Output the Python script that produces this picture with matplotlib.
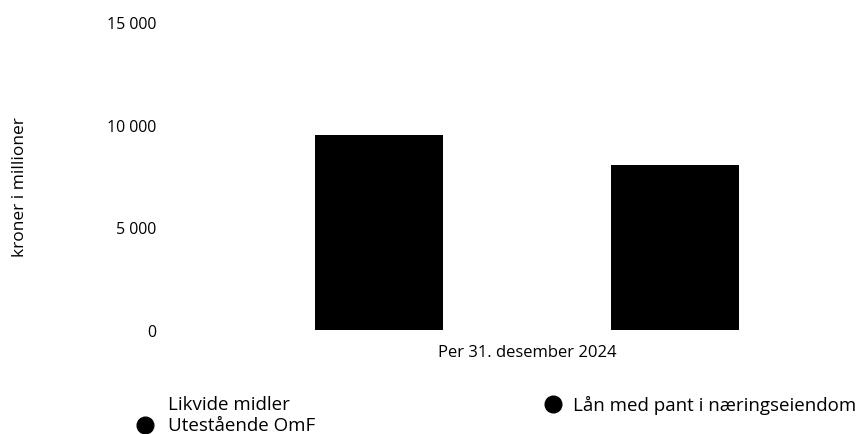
import numpy as np
import matplotlib.pyplot as plt
from matplotlib.lines import Line2D

plt.rcParams['font.family'] = ['Open Sans', 'DejaVu Sans']

# values in NOK millions, per 31 Dec 2024
category = 'Per 31. desember 2024'
omf = 5050        # Utestående OmF (bottom of first stack)
likvide = 4460    # Likvide midler (top of first stack)
laan = 8050       # Lån med pant i næringseiendom
yticks = [0, 5000, 10000, 15000]
ytick_labels = ['0', '5 000', '10 000', '15 000']

W, H = 859, 435
fig = plt.figure(figsize=(W / 100, H / 100), dpi=100)
# plot area in pixels: x 180..859, y 23..331
ax = fig.add_axes([180 / W, (H - 331) / H, 679 / W, (331 - 23) / H])

width = 0.865
ax.bar(-1, omf, width, color='black', linewidth=0)
ax.bar(-1, likvide, width, bottom=omf, color='black', linewidth=0)
ax.bar(1, laan, width, color='black', linewidth=0)

ax.set_xlim(-2.345, 2.243)
ax.set_ylim(0, 15000)
ax.set_yticks(yticks)
ax.set_yticklabels(ytick_labels)
ax.set_xticks([0])
ax.set_xticklabels([category])
for s in ax.spines.values():
    s.set_visible(False)
ax.tick_params(length=0, labelsize=11.4, colors='black')
ax.tick_params(axis='y', pad=17)
ax.tick_params(axis='x', labelsize=12, pad=10)

fig.text(20 / W, 1 - 187 / H, 'kroner i millioner', rotation=90,
         ha='center', va='center', fontsize=12.5)

# legend entries
fig.text(168 / W, 1 - 405 / H, 'Likvide midler', va='center', fontsize=13.5)
fig.text(168 / W, 1 - 426 / H, 'Utestående OmF', va='center', fontsize=13.5)
fig.text(573 / W, 1 - 405 / H, 'Lån med pant i næringseiendom', va='center', fontsize=13.5)
for x, y in [(145, 426), (553, 405)]:
    fig.add_artist(Line2D([x / W], [1 - y / H], marker='o', markersize=12,
                          color='black', transform=fig.transFigure))

fig.savefig('out.png', dpi=100)
